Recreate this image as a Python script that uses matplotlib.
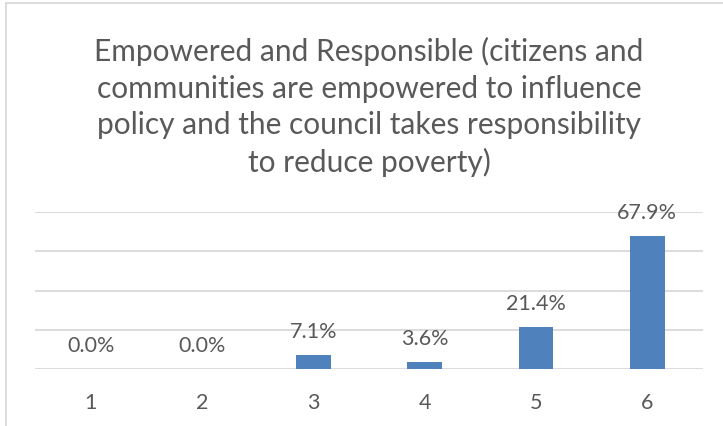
import matplotlib
matplotlib.use("Agg")
import matplotlib.pyplot as plt
from matplotlib.patches import Rectangle

categories = ["1", "2", "3", "4", "5", "6"]
values = [0.0, 0.0, 7.1, 3.6, 21.4, 67.9]
title_lines = [
    "Empowered and Responsible (citizens and",
    "communities are empowered to influence",
    "policy and the council takes responsibility",
    "to reduce poverty)",
]
y_ticks = [0, 20, 40, 60, 80]

W, H = 723, 427
DPI = 100
TEXT = "#595959"
GRID = "#D9D9D9"
BAR = "#4F81BD"
FONT = ["Lato", "DejaVu Sans"]

fig = plt.figure(figsize=(W / DPI, H / DPI), dpi=DPI)
fig.patch.set_facecolor("white")

# chart-area frame (only the top and left edges fall inside the image)
fig.patches.append(Rectangle((5.5 / W, -0.1), 1.2, 1.1 - 4.5 / H,
                             transform=fig.transFigure, fill=False,
                             edgecolor=GRID, linewidth=1.3))

ax = fig.add_axes([35 / W, (H - 370) / H, 668 / W, 157 / H])
x = list(range(len(categories)))
ax.bar(x, values, width=0.31, color=BAR, zorder=3)
ax.set_xlim(-0.5, len(categories) - 0.5)
ax.set_ylim(0, 80)
ax.set_yticks(y_ticks)
ax.yaxis.grid(True, color=GRID, linewidth=1.3, zorder=0)
ax.tick_params(axis="y", left=False, labelleft=False)
ax.tick_params(axis="x", bottom=False, pad=13, labelsize=15.5, colors=TEXT)
ax.set_xticks(x)
ax.set_xticklabels(categories, fontfamily=FONT)
for s in ax.spines.values():
    s.set_visible(False)

for xi, v in zip(x, values):
    ax.annotate(f"{v:.1f}%", xy=(xi, v), xytext=(0, 13), textcoords="offset points",
                ha="center", va="baseline", fontsize=15.5, color=TEXT,
                fontfamily=FONT)

fig.text(369 / W, 1 - 107 / H, "\n".join(title_lines), ha="center", va="center",
         fontsize=21.5, color=TEXT, fontfamily=FONT, linespacing=1.36)

fig.savefig("out.png", dpi=DPI)
